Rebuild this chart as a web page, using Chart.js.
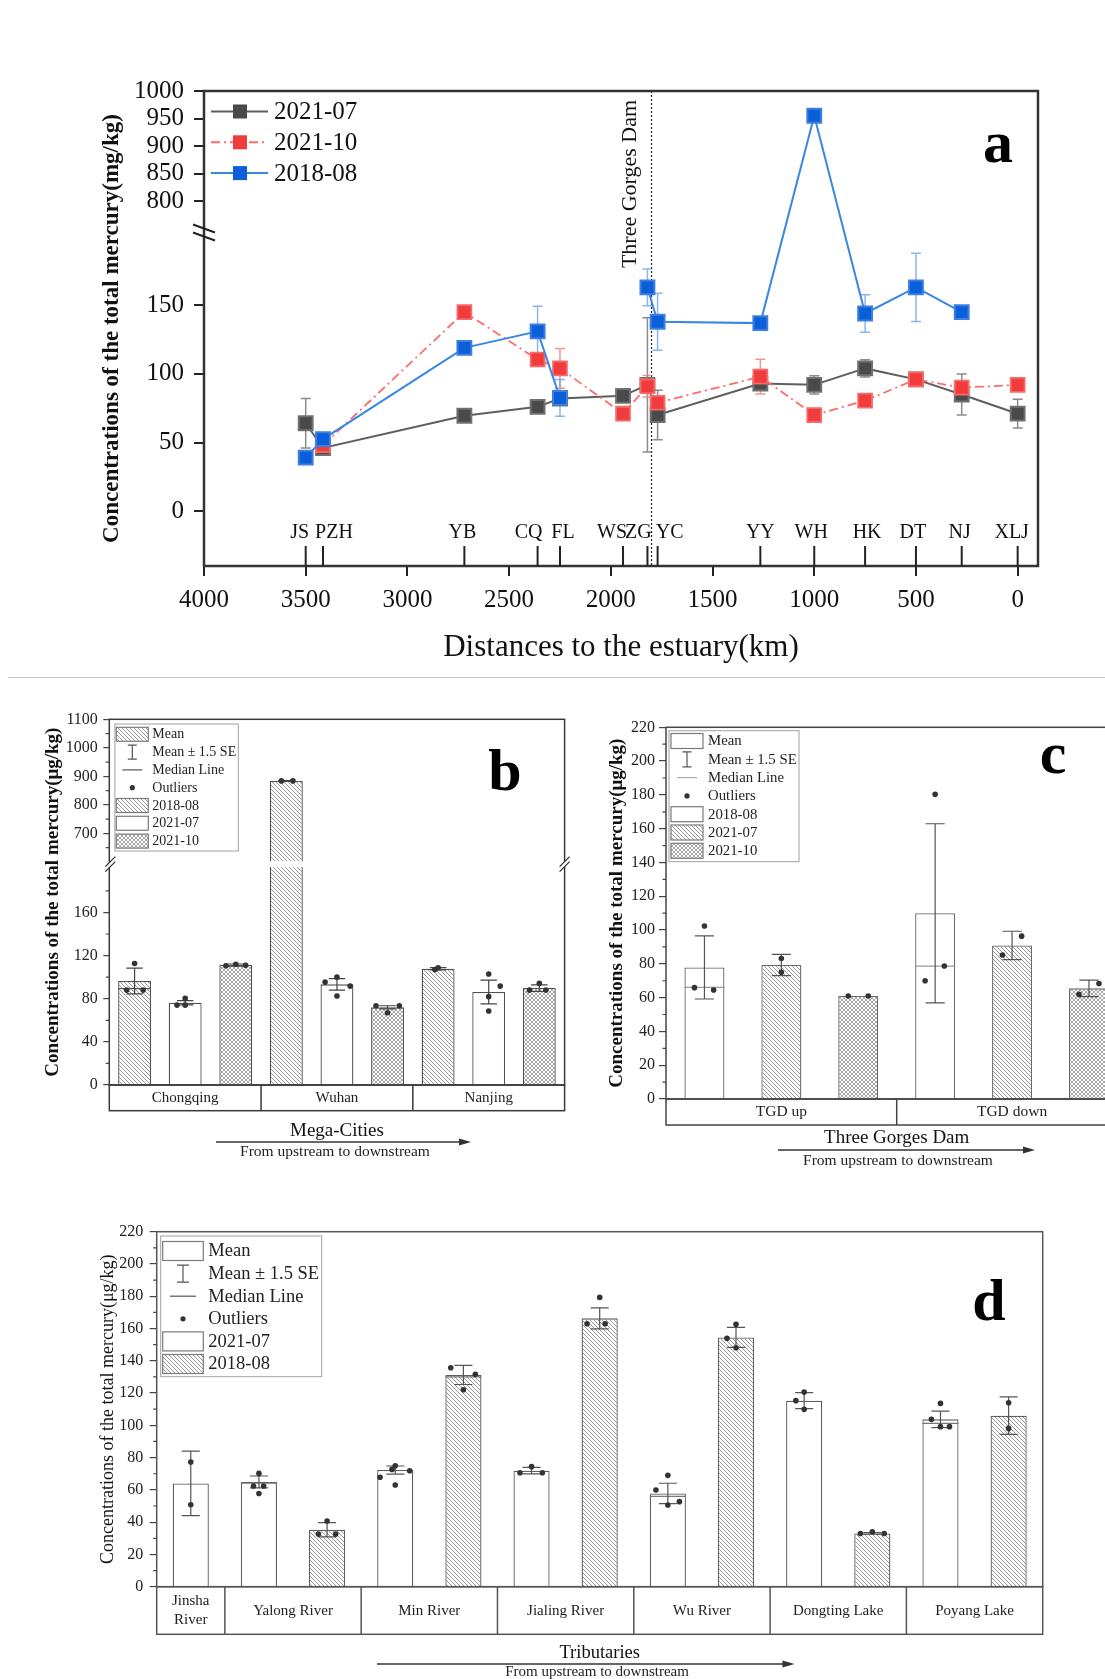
<!DOCTYPE html>
<html>
<head>
<meta charset="utf-8">
<title>Total mercury concentrations</title>
<script src="https://cdn.jsdelivr.net/npm/chart.js@4.4.1/dist/chart.umd.min.js"></script>
<style>
  html, body { margin:0; padding:0; background:#fff; }
  body { width:1105px; height:1679px; overflow:hidden; position:relative; }
  canvas { position:absolute; }
  #sep { position:absolute; left:8px; top:677px; width:1097px; height:1px; background:#c4c4c4; }
</style>
</head>
<body>
<canvas id="chartA" width="1105" height="678" style="left:0;top:0"></canvas>
<div id="sep"></div>
<canvas id="chartB" width="600" height="480" style="left:0;top:690px"></canvas>
<canvas id="chartC" width="560" height="480" style="left:590px;top:700px"></canvas>
<canvas id="chartD" width="1105" height="489" style="left:0;top:1190px"></canvas>
<script>
// ======================= DATA =======================
// ---- Panel a : total mercury along the main stream ----
const stations   = ['JS','PZH','YB','CQ','FL','WS','ZG','YC','YY','WH','HK','DT','NJ','XLJ'];
const distanceKm = [3500, 3415, 2720, 2360, 2250, 1940, 1820, 1770, 1265, 1000, 750, 500, 275, 0];
const hg_2021_07     = [64, 46, 69.5, 76, 82, 84, 92, 70, 93, 92, 104, 96, 85, 71];
const hg_2021_07_err = [18, 2, 2, 2, 2, 2, 49, 18, 5, 6.6, 6.3, 3, 15, 10.5];
const hg_2021_10     = [null, 48, 145, 110.5, 104, 71, 91, 79, 98, 70, 80.5, 96, 90, 92];
const hg_2021_10_err = [null, 2, 3, 4, 14.5, 2, 7.8, 5, 12.7, 2, 2, 2, 3, 3];
const hg_2018_08     = [39, 52.5, 119, 131, 82.5, null, 163, 138, 137, 955, 144, 163, 145, null];
const hg_2018_08_err = [0, 2, 2, 18.3, 13.4, null, 13.4, 20.7, 0, 0, 13.7, 24.9, 0, null];
const distanceTicks = [4000, 3500, 3000, 2500, 2000, 1500, 1000, 500, 0];
const concTicksA = [0, 50, 100, 150, 800, 850, 900, 950, 1000];
const tgdKm = 1800;

// ---- Panel b : mega-cities ----
const cities = ['Chongqing', 'Wuhan', 'Nanjing'];
const b_2018_08 = [96.4, 884, 107.8];
const b_2021_07 = [76.3, 93.3, 86.2];
const b_2021_10 = [111.2, 72, 89.9];
const b_2018_08_se = [12, 1, 1];
const b_2021_07_se = [2, 5.4, 11];
const b_2021_10_se = [1, 1.5, 3];
const b_2018_08_median = [89.3, null, null];
const b_2018_08_pts = [[112.7, 88, 88], [884, 884], [108.7, 107]];
const b_2021_07_pts = [[80.3, 74.1, 74.1], [100, 95.4, 91.7, 82.5], [102.9, 91.7, 81.9, 68.6]];
const b_2021_10_pts = [[112, 110.5, 111], [73.5, 73.5, 67], [94.2, 88, 88]];
const concTicksB = [0, 40, 80, 120, 160, 700, 800, 900, 1000, 1100];
const concMinorB = [20, 60, 100, 140, 180, 650, 750, 850, 950, 1050];

// ---- Panel c : Three Gorges Dam ----
const tgdSites = ['TGD up', 'TGD down'];
const c_2018_08 = [77.9, 109.9];
const c_2021_07 = [79.3, 90.9];
const c_2021_10 = [61, 65.5];
const c_2018_08_se = [18.7, 53];
const c_2021_07_se = [6.3, 8.4];
const c_2021_10_se = [0, 4.9];
const c_2018_08_median = [66.1, 78.7];
const c_2018_08_pts = [[102.4, 65.9, 64.5], [180.3, 70, 78.7]];
const c_2021_07_pts = [[83.2, 75], [96.4, 85.2]];
const c_2021_10_pts = [[61, 61], [68.4, 61.9]];

// ---- Panel d : tributaries ----
const tributaries = ['Jinsha River', 'Yalong River', 'Min River', 'Jialing River', 'Wu River', 'Dongting Lake', 'Poyang Lake'];
const d_2021_07 = [64, 64.9, 72.3, 71.9, 57.8, 115.3, 103.7];
const d_2018_08 = [null, 35.3, 131.2, 166.3, 154.5, 33, 106];
const d_2021_07_se = [20, 3.7, 2.5, 2, 6.3, 5, 5.1];
const d_2018_08_se = [null, 4.4, 5.9, 6.5, 6.2, 0.5, 11.6];
const d_2021_07_median = [null, 64.1, null, null, 56, null, 101.2];
const d_2018_08_median = [null, null, 130, null, null, null, null];
const d_2021_07_pts = [[77.3, 50.8], [70.2, 62.4, 62.4, 57.8], [75, 72.7, 71.9, 67.8, 63], [74.4, 70.6, 70.6], [69, 59.9, 50.6, 52.7], [120.6, 115.3, 109.9], [113.6, 103.7, 99.2, 99.2]];
const d_2018_08_pts = [null, [40.7, 32.6, 32.6], [135.7, 131.6, 122.1], [179.3, 163, 163], [162.6, 153.9, 148.1], [33, 34, 33], [114, 98.1]];
const concTicks220 = [0, 20, 40, 60, 80, 100, 120, 140, 160, 180, 200, 220];
const concMinor220 = [10, 30, 50, 70, 90, 110, 130, 150, 170, 190, 210];

// ======================= LAYOUT / STYLE (not data) =======================
const stationLabelShift = [-6, 11, -2, -9, 3, -11, -9, 12, 0, -3, 2, -3, -2, -6];
const jitB = {
  '2018-08': [[0, -0.24, 0.26], [-0.15, 0.2], [0, -0.1]],
  '2021-07': [[0, -0.25, 0], [0, -0.36, 0.4, 0], [0, 0.35, 0, 0]],
  '2021-10': [[0, -0.3, 0.3], [-0.35, 0.36, 0], [0, -0.3, 0.2]]
};
const jitC = {
  '2018-08': [[0, -0.25, 0.23], [0, -0.25, 0.23]],
  '2021-07': [[0, 0], [0.24, -0.24]],
  '2021-10': [[-0.25, 0.25], [0.25, -0.25]]
};
const jitD = {
  '2021-07': [[0, 0], [0, -0.15, 0.13, 0], [0, -0.09, 0.4, -0.42, 0], [0, -0.32, 0.3], [0, -0.33, 0, 0.32], [0, -0.23, 0], [0, -0.25, 0, 0.25]],
  '2018-08': [null, [0, -0.24, 0.24], [-0.35, 0.33, 0], [0, -0.35, 0.15], [0, -0.25, 0], [-0.33, 0, 0.33], [0, 0]]
};
// broken-axis geometry: value ranges and the fraction of axis height they occupy
const BREAKS = {
  chartA: [{from: -40, to: 203, f0: 0, f1: 0.702}, {from: 743, to: 1000, f0: 0.702, f1: 1}],
  chartB: [{from: 0, to: 204.8, f0: 0, f1: 0.604}, {from: 592, to: 1100, f0: 0.604, f1: 1}]
};

const SERIF = "'Liberation Serif', 'Times New Roman', Times, serif";
Chart.defaults.font.family = SERIF;
Chart.defaults.color = '#111';

// ======================= BROKEN LINEAR SCALE =======================
class BrokenScale extends Chart.LinearScale {
  static id = 'broken';
  static defaults = {};
  _segs() { return BREAKS[this.chart.canvas.id]; }
  _dec(v) {
    const segs = this._segs();
    for (let k = 0; k < segs.length; k++) {
      const s = segs[k];
      if (v <= s.to || k === segs.length - 1) {
        if (v < s.from && k > 0) return s.f0;
        return s.f0 + (v - s.from) / (s.to - s.from) * (s.f1 - s.f0);
      }
    }
    return 1;
  }
  getPixelForValue(value) {
    if (value === null || value === undefined || Number.isNaN(+value)) return NaN;
    return this.getPixelForDecimal(this._dec(+value));
  }
  getValueForPixel(pixel) {
    const d = this.getDecimalForPixel(pixel);
    const segs = this._segs();
    for (const s of segs) {
      if (d <= s.f1) return s.from + (d - s.f0) / (s.f1 - s.f0) * (s.to - s.from);
    }
    const s = segs[segs.length - 1];
    return s.from + (d - s.f0) / (s.f1 - s.f0) * (s.to - s.from);
  }
}
Chart.register(BrokenScale);

// ======================= HELPERS =======================
function makeHatch(bg, fg, s, lw, cross) {
  const c = document.createElement('canvas'); c.width = s; c.height = s;
  const g = c.getContext('2d');
  g.fillStyle = bg; g.fillRect(0, 0, s, s);
  g.strokeStyle = fg; g.lineWidth = lw;
  g.beginPath();
  g.moveTo(-1, -1); g.lineTo(s + 1, s + 1);
  g.moveTo(-1, s - 1); g.lineTo(1, s + 1);
  g.moveTo(s - 1, -1); g.lineTo(s + 1, 1);
  if (cross) {
    g.moveTo(-1, s + 1); g.lineTo(s + 1, -1);
    g.moveTo(-1, 1); g.lineTo(1, -1);
    g.moveTo(s - 1, s + 1); g.lineTo(s + 1, s - 1);
  }
  g.stroke();
  return g.createPattern(c, 'repeat');
}
const hatchPat = makeHatch('#ffffff', '#8a8a8a', 4, 0.9, false);
const crossPat = makeHatch('#ffffff', '#8f8f8f', 4, 0.8, true);

function txt(ctx, str, x, y, size, o = {}) {
  ctx.save();
  ctx.font = `${o.weight || 'normal'} ${size}px ${SERIF}`;
  ctx.fillStyle = o.color || '#111';
  ctx.textAlign = o.align || 'center';
  ctx.textBaseline = o.baseline || 'middle';
  if (o.rotate) { ctx.translate(x, y); ctx.rotate(o.rotate); ctx.fillText(str, 0, 0); }
  else ctx.fillText(str, x, y);
  ctx.restore();
}
function frame(ctx, ca, color, lw) {
  ctx.save(); ctx.strokeStyle = color; ctx.lineWidth = lw;
  ctx.strokeRect(ca.left, ca.top, ca.right - ca.left, ca.bottom - ca.top);
  ctx.restore();
}
function breakMark(ctx, x, y, color, lw, w, h, g) {
  ctx.save();
  ctx.fillStyle = '#fff';
  ctx.beginPath();
  ctx.moveTo(x - w, y + h - g); ctx.lineTo(x + w, y - h - g);
  ctx.lineTo(x + w, y - h + g); ctx.lineTo(x - w, y + h + g); ctx.closePath(); ctx.fill();
  ctx.strokeStyle = color; ctx.lineWidth = lw;
  ctx.beginPath();
  ctx.moveTo(x - w, y + h - g); ctx.lineTo(x + w, y - h - g);
  ctx.moveTo(x - w, y + h + g); ctx.lineTo(x + w, y - h + g);
  ctx.stroke();
  ctx.restore();
}
function arrow(ctx, x0, x1, y) {
  ctx.save(); ctx.strokeStyle = '#333'; ctx.fillStyle = '#333'; ctx.lineWidth = 1.4;
  ctx.beginPath(); ctx.moveTo(x0, y); ctx.lineTo(x1 - 8, y); ctx.stroke();
  ctx.beginPath(); ctx.moveTo(x1, y); ctx.lineTo(x1 - 12, y - 3.5); ctx.lineTo(x1 - 12, y + 3.5); ctx.closePath(); ctx.fill();
  ctx.restore();
}
function minorTicks(ctx, scale, vals, len, color, lw) {
  ctx.save(); ctx.strokeStyle = color; ctx.lineWidth = lw;
  ctx.beginPath();
  vals.forEach(v => { const py = scale.getPixelForValue(v); ctx.moveTo(scale.right - len, py); ctx.lineTo(scale.right, py); });
  ctx.stroke(); ctx.restore();
}
function statLegend(ctx, ca, L) {
  ctx.save();
  ctx.strokeStyle = '#a0a0a0'; ctx.lineWidth = 1;
  ctx.strokeRect(ca.left + L.dx, ca.top + L.dy, L.w, L.h);
  L.items.forEach((it, k) => {
    const cy = ca.top + L.row0 + k * L.rowH;
    const sx = ca.left + L.swX, mid = sx + L.swW / 2;
    ctx.save();
    if (it.kind === 'box') {
      ctx.fillStyle = it.fill; ctx.fillRect(sx, cy - L.swH / 2, L.swW, L.swH);
      ctx.strokeStyle = '#7a7a7a'; ctx.lineWidth = 1.2; ctx.strokeRect(sx, cy - L.swH / 2, L.swW, L.swH);
    } else if (it.kind === 'ibeam') {
      ctx.strokeStyle = '#555'; ctx.lineWidth = 1.2; ctx.beginPath();
      ctx.moveTo(mid, cy - L.ib / 2); ctx.lineTo(mid, cy + L.ib / 2);
      ctx.moveTo(mid - L.cap / 2, cy - L.ib / 2); ctx.lineTo(mid + L.cap / 2, cy - L.ib / 2);
      ctx.moveTo(mid - L.cap / 2, cy + L.ib / 2); ctx.lineTo(mid + L.cap / 2, cy + L.ib / 2);
      ctx.stroke();
    } else if (it.kind === 'median') {
      ctx.strokeStyle = L.medColor; ctx.lineWidth = 1.2; ctx.beginPath();
      ctx.moveTo(mid - L.medW / 2, cy); ctx.lineTo(mid + L.medW / 2, cy); ctx.stroke();
    } else if (it.kind === 'dot') {
      ctx.fillStyle = '#333'; ctx.beginPath(); ctx.arc(mid, cy, 2.6, 0, Math.PI * 2); ctx.fill();
    }
    ctx.restore();
    txt(ctx, it.label, ca.left + L.textX, cy + 0.5, L.font, {align: 'left', color: '#222'});
  });
  ctx.restore();
}
// draws medians, Mean ± 1.5 SE bars and individual sample points on each bar
function drawBarStats(chart, st) {
  const ctx = chart.ctx, y = chart.scales.y;
  chart.data.datasets.forEach((ds, di) => {
    const meta = chart.getDatasetMeta(di);
    meta.data.forEach((bar, i) => {
      const v = ds.data[i];
      if (v == null) return;
      const cx = bar.x, w = bar.width;
      ctx.save();
      const med = ds.median ? ds.median[i] : null;
      if (med != null) {
        const py = y.getPixelForValue(med);
        ctx.strokeStyle = st.medColor; ctx.lineWidth = 1.2;
        ctx.beginPath(); ctx.moveTo(cx - w / 2, py); ctx.lineTo(cx + w / 2, py); ctx.stroke();
      }
      const e = ds.se ? ds.se[i] : 0;
      if (e) {
        const t = y.getPixelForValue(v + e), b = y.getPixelForValue(v - e), c = w * st.capFrac / 2;
        ctx.strokeStyle = st.errColor; ctx.lineWidth = 1.2;
        ctx.beginPath();
        ctx.moveTo(cx, t); ctx.lineTo(cx, b);
        ctx.moveTo(cx - c, t); ctx.lineTo(cx + c, t);
        ctx.moveTo(cx - c, b); ctx.lineTo(cx + c, b);
        ctx.stroke();
      }
      const pts = ds.pts ? ds.pts[i] : null;
      if (pts) {
        ctx.fillStyle = '#333';
        pts.forEach((p, k) => {
          const j = (ds.jit && ds.jit[i]) ? (ds.jit[i][k] || 0) : 0;
          ctx.beginPath(); ctx.arc(cx + j * w, y.getPixelForValue(p), st.dot, 0, Math.PI * 2); ctx.fill();
        });
      }
      ctx.restore();
    });
  });
}
function categoryTable(ctx, ca, tableBottom, edges, color, lw) {
  ctx.save(); ctx.strokeStyle = color; ctx.lineWidth = lw;
  ctx.strokeRect(ca.left, ca.bottom, ca.right - ca.left, tableBottom - ca.bottom);
  ctx.beginPath();
  edges.forEach(x => { ctx.moveTo(x, ca.bottom); ctx.lineTo(x, tableBottom); });
  ctx.stroke(); ctx.restore();
}

// ======================= PANEL a =======================
const panelAPlugin = {
  id: 'panelA',
  beforeDatasetsDraw(chart) {
    const {ctx, chartArea: ca, scales: {x, y}} = chart;
    const tx = x.getPixelForValue(tgdKm);
    ctx.save();
    ctx.strokeStyle = '#222'; ctx.lineWidth = 1.2; ctx.setLineDash([2, 2]);
    ctx.beginPath(); ctx.moveTo(tx, ca.top); ctx.lineTo(tx, ca.bottom); ctx.stroke();
    ctx.restore();
    chart.data.datasets.forEach((ds, di) => {
      const meta = chart.getDatasetMeta(di);
      ctx.save(); ctx.strokeStyle = ds.errColor; ctx.lineWidth = 1.5;
      meta.data.forEach((pt, i) => {
        const v = ds.data[i].y, e = ds.err[i];
        if (v == null || !e) return;
        const px = pt.x, t = y.getPixelForValue(v + e), b = y.getPixelForValue(v - e);
        ctx.beginPath();
        ctx.moveTo(px, t); ctx.lineTo(px, b);
        ctx.moveTo(px - 5, t); ctx.lineTo(px + 5, t);
        ctx.moveTo(px - 5, b); ctx.lineTo(px + 5, b);
        ctx.stroke();
      });
      ctx.restore();
    });
  },
  afterDraw(chart) {
    const {ctx, chartArea: ca, scales: {x, y}} = chart;
    frame(ctx, ca, '#333', 2.5);
    // station ticks + names
    ctx.save();
    ctx.strokeStyle = '#222'; ctx.lineWidth = 2;
    stations.forEach((s, i) => {
      const px = x.getPixelForValue(distanceKm[i]);
      ctx.beginPath(); ctx.moveTo(px, ca.bottom); ctx.lineTo(px, ca.bottom - 20); ctx.stroke();
      txt(ctx, s, px + stationLabelShift[i], ca.bottom - 33, 20, {color: '#111'});
    });
    ctx.restore();
    // dam label
    const tx = x.getPixelForValue(tgdKm);
    txt(ctx, 'Three Gorges Dam', tx - 21, ca.top + 93, 22, {rotate: -Math.PI / 2, color: '#111'});
    // axis break: two shallow parallel strokes across the axis
    const bp = y.getPixelForDecimal(0.702);
    ctx.save(); ctx.strokeStyle = '#222'; ctx.lineWidth = 2;
    ctx.beginPath();
    ctx.moveTo(ca.left - 11, bp - 8); ctx.lineTo(ca.left + 11, bp);
    ctx.moveTo(ca.left - 11, bp); ctx.lineTo(ca.left + 11, bp + 8);
    ctx.stroke(); ctx.restore();
    // legend
    const leg = chart.data.datasets;
    leg.forEach((ds, k) => {
      const cy = 111.5 + k * 30.8;
      ctx.save();
      ctx.strokeStyle = ds.borderColor; ctx.lineWidth = 2;
      if (ds.borderDash) ctx.setLineDash(ds.borderDash);
      ctx.beginPath(); ctx.moveTo(211, cy); ctx.lineTo(268, cy); ctx.stroke();
      ctx.setLineDash([]);
      ctx.fillStyle = ds.pointBackgroundColor;
      ctx.fillRect(240 - 7, cy - 7, 14, 14);
      ctx.restore();
      txt(ctx, ds.label, 274, cy + 1, 25, {align: 'left', color: '#111'});
    });
    txt(ctx, 'a', ca.right - 40, ca.top + 70.7, 60, {weight: 'bold', baseline: 'alphabetic', color: '#000'});
  }
};

const order = [2, 1, 0];
new Chart(document.getElementById('chartA'), {
  type: 'line',
  data: {
    datasets: [
      {label: '2021-07', data: distanceKm.map((d, i) => ({x: d, y: hg_2021_07[i]})), err: hg_2021_07_err,
       errColor: 'rgba(110,110,110,0.8)', borderColor: '#5e5e5e', borderWidth: 2,
       pointBackgroundColor: '#4a4a4a', pointBorderColor: '#707070', order: order[0]},
      {label: '2021-10', data: distanceKm.map((d, i) => ({x: d, y: hg_2021_10[i]})), err: hg_2021_10_err,
       errColor: 'rgba(240,120,120,0.8)', borderColor: '#ff6b6b', borderWidth: 1.8, borderDash: [9, 4, 2, 4],
       pointBackgroundColor: '#f03c3c', pointBorderColor: '#f86a6a', order: order[1]},
      {label: '2018-08', data: distanceKm.map((d, i) => ({x: d, y: hg_2018_08[i]})), err: hg_2018_08_err,
       errColor: 'rgba(110,160,235,0.8)', borderColor: '#3a86e4', borderWidth: 2,
       pointBackgroundColor: '#0b5fd8', pointBorderColor: '#3d7fe0', order: order[2]}
    ]
  },
  options: {
    responsive: false, animation: false, events: [],
    layout: {padding: {left: 0, top: 91, right: 67, bottom: 0}},
    elements: {line: {tension: 0}, point: {pointStyle: 'rect', radius: 9.8, borderWidth: 1}},
    plugins: {legend: {display: false}, tooltip: {enabled: false}},
    scales: {
      x: {
        type: 'linear', reverse: true, min: -100, max: 4000,
        afterBuildTicks(s) { s.ticks = distanceTicks.map(v => ({value: v})); },
        afterFit(s) { s.height = 112; },
        grid: {drawOnChartArea: false, tickLength: 10, color: '#222', lineWidth: 2},
        border: {display: false},
        ticks: {font: {size: 25}, padding: 9, color: '#111', autoSkip: false, maxRotation: 0, callback: v => String(v)},
        title: {display: true, text: 'Distances to the estuary(km)', font: {size: 31}, color: '#111', padding: {top: 0, bottom: 12}}
      },
      y: {
        type: 'broken', min: -40, max: 1000,
        afterBuildTicks(s) { s.ticks = concTicksA.map(v => ({value: v})); },
        afterFit(s) { s.width = 204; },
        grid: {drawOnChartArea: false, tickLength: 10, color: '#222', lineWidth: 2},
        border: {display: false},
        ticks: {font: {size: 25}, padding: 10, color: '#111', callback: v => String(v)},
        title: {display: true, text: 'Concentrations of the total mercury(mg/kg)', font: {size: 23, weight: 'bold'}, color: '#111', padding: {top: 98, bottom: 0}}
      }
    }
  },
  plugins: [panelAPlugin]
});

// ======================= PANEL b =======================
new Chart(document.getElementById('chartB'), {
  type: 'bar',
  data: {
    labels: cities,
    datasets: [
      {label: '2018-08', data: b_2018_08, backgroundColor: hatchPat, se: b_2018_08_se, median: b_2018_08_median, pts: b_2018_08_pts, jit: jitB['2018-08']},
      {label: '2021-07', data: b_2021_07, backgroundColor: '#ffffff', se: b_2021_07_se, pts: b_2021_07_pts, jit: jitB['2021-07']},
      {label: '2021-10', data: b_2021_10, backgroundColor: crossPat, se: b_2021_10_se, pts: b_2021_10_pts, jit: jitB['2021-10']}
    ]
  },
  options: {
    responsive: false, animation: false, events: [],
    layout: {padding: {left: 0, top: 29.3, right: 35.4, bottom: 0}},
    datasets: {bar: {categoryPercentage: 1, barPercentage: 0.65, borderColor: '#505050', borderWidth: 1.3}},
    plugins: {legend: {display: false}, tooltip: {enabled: false}},
    scales: {
      x: {
        grid: {display: false, drawTicks: false}, border: {display: false},
        ticks: {font: {size: 15}, padding: 4, color: '#222'},
        afterFit(s) { s.height = 85; },
        title: {display: true, text: 'Mega-Cities', font: {size: 19}, color: '#111', padding: {top: 0, bottom: 27.6}}
      },
      y: {
        type: 'broken', min: 0, max: 1100,
        afterBuildTicks(s) { s.ticks = concTicksB.map(v => ({value: v})); },
        afterFit(s) { s.width = 109.3; },
        grid: {drawOnChartArea: false, tickLength: 6, color: '#444', lineWidth: 1.2},
        border: {display: false},
        ticks: {font: {size: 16}, padding: 5.5, color: '#222', callback: v => String(v)},
        title: {display: true, text: 'Concentrations of the total mercury(μg/kg)', font: {size: 19, weight: 'bold'}, color: '#111', padding: {top: 41.6, bottom: 0}}
      }
    }
  },
  plugins: [{
    id: 'panelB',
    afterDatasetsDraw(chart) {
      const {ctx, chartArea: ca, scales: {y}} = chart;
      const bp = y.getPixelForDecimal(0.604);
      ctx.save(); ctx.fillStyle = '#fff'; ctx.fillRect(ca.left + 1, bp - 3, ca.right - ca.left - 2, 6); ctx.restore();
      drawBarStats(chart, {medColor: '#555', errColor: '#444', capFrac: 0.5, dot: 2.8});
    },
    afterDraw(chart) {
      const {ctx, chartArea: ca, scales: {y}} = chart;
      frame(ctx, ca, '#3a3a3a', 1.5);
      const n = cities.length, cw = (ca.right - ca.left) / n;
      categoryTable(ctx, ca, ca.bottom + 25.7, [1, 2].map(k => ca.left + k * cw), '#3a3a3a', 1.5);
      minorTicks(ctx, y, concMinorB, 3.5, '#444', 1.2);
      const bp = y.getPixelForDecimal(0.604);
      breakMark(ctx, ca.left + 1, bp, '#333', 1.3, 5, 5, 2.5);
      breakMark(ctx, ca.right, bp, '#333', 1.3, 5, 5, 2.5);
      arrow(ctx, 216, 471, 452);
      txt(ctx, 'From upstream to downstream', 335, 462.3, 15.5, {color: '#222'});
      const ds = chart.data.datasets;
      statLegend(ctx, ca, {dx: 5.6, dy: 4.7, w: 123.4, h: 127, row0: 15, rowH: 17.8, swX: 7, swW: 32, swH: 14, textX: 43, font: 14,
        ib: 14, cap: 9, medW: 20, medColor: '#555',
        items: [{kind: 'box', fill: hatchPat, label: 'Mean'}, {kind: 'ibeam', label: 'Mean ± 1.5 SE'}, {kind: 'median', label: 'Median Line'},
                {kind: 'dot', label: 'Outliers'}, {kind: 'box', fill: ds[0].backgroundColor, label: ds[0].label},
                {kind: 'box', fill: ds[1].backgroundColor, label: ds[1].label}, {kind: 'box', fill: ds[2].backgroundColor, label: ds[2].label}]});
      txt(ctx, 'b', ca.right - 59.6, ca.top + 70.7, 60, {weight: 'bold', baseline: 'alphabetic', color: '#000'});
    }
  }]
});

// ======================= PANEL c =======================
new Chart(document.getElementById('chartC'), {
  type: 'bar',
  data: {
    labels: tgdSites,
    datasets: [
      {label: '2018-08', data: c_2018_08, backgroundColor: '#ffffff', se: c_2018_08_se, median: c_2018_08_median, pts: c_2018_08_pts, jit: jitC['2018-08']},
      {label: '2021-07', data: c_2021_07, backgroundColor: hatchPat, se: c_2021_07_se, pts: c_2021_07_pts, jit: jitC['2021-07']},
      {label: '2021-10', data: c_2021_10, backgroundColor: crossPat, se: c_2021_10_se, pts: c_2021_10_pts, jit: jitC['2021-10']}
    ]
  },
  options: {
    responsive: false, animation: false, events: [],
    layout: {padding: {left: 0, top: 27.3, right: 22.6, bottom: 0}},
    datasets: {bar: {categoryPercentage: 1, barPercentage: 0.52, borderColor: '#6a6a6a', borderWidth: 1.3}},
    plugins: {legend: {display: false}, tooltip: {enabled: false}},
    scales: {
      x: {
        grid: {display: false, drawTicks: false}, border: {display: false},
        ticks: {font: {size: 15.5}, padding: 3.7, color: '#222'},
        afterFit(s) { s.height = 81; },
        title: {display: true, text: 'Three Gorges Dam', font: {size: 19}, color: '#111', padding: {top: 0, bottom: 30.9}}
      },
      y: {
        min: 0, max: 220,
        afterBuildTicks(s) { s.ticks = concTicks220.map(v => ({value: v})); },
        afterFit(s) { s.width = 76; },
        grid: {drawOnChartArea: false, tickLength: 7, color: '#444', lineWidth: 1.2},
        border: {display: false},
        ticks: {font: {size: 16}, padding: 4, color: '#222', callback: v => String(v)},
        title: {display: true, text: 'Concentrations of the total mercury(μg/kg)', font: {size: 19, weight: 'bold'}, color: '#111', padding: {top: 15.6, bottom: 0}}
      }
    }
  },
  plugins: [{
    id: 'panelC',
    afterDatasetsDraw(chart) { drawBarStats(chart, {medColor: '#999', errColor: '#555', capFrac: 0.48, dot: 2.8}); },
    afterDraw(chart) {
      const {ctx, chartArea: ca, scales: {y}} = chart;
      frame(ctx, ca, '#444', 1.5);
      const n = tgdSites.length, cw = (ca.right - ca.left) / n;
      categoryTable(ctx, ca, ca.bottom + 26, [ca.left + cw], '#444', 1.5);
      minorTicks(ctx, y, concMinor220, 3.5, '#444', 1.2);
      arrow(ctx, 188, 445, 450);
      txt(ctx, 'From upstream to downstream', 308, 460.7, 15.5, {color: '#222'});
      const ds = chart.data.datasets;
      statLegend(ctx, ca, {dx: 3, dy: 3.4, w: 130, h: 131, row0: 13.7, rowH: 18.3, swX: 5, swW: 32, swH: 15, textX: 42, font: 14.8,
        ib: 15, cap: 9, medW: 20, medColor: '#aaa',
        items: [{kind: 'box', fill: '#ffffff', label: 'Mean'}, {kind: 'ibeam', label: 'Mean ± 1.5 SE'}, {kind: 'median', label: 'Median Line'},
                {kind: 'dot', label: 'Outliers'}, {kind: 'box', fill: ds[0].backgroundColor, label: ds[0].label},
                {kind: 'box', fill: ds[1].backgroundColor, label: ds[1].label}, {kind: 'box', fill: ds[2].backgroundColor, label: ds[2].label}]});
      txt(ctx, 'c', ca.left + 387, ca.top + 45.7, 60, {weight: 'bold', baseline: 'alphabetic', color: '#000'});
    }
  }]
});

// ======================= PANEL d =======================
// one bar slot per (tributary, campaign) that has a value
const dSlots = [];
tributaries.forEach((t, i) => {
  if (d_2021_07[i] != null) dSlots.push({trib: i, series: '2021-07', v: d_2021_07[i], se: d_2021_07_se[i], med: d_2021_07_median[i], pts: d_2021_07_pts[i], jit: jitD['2021-07'][i]});
  if (d_2018_08[i] != null) dSlots.push({trib: i, series: '2018-08', v: d_2018_08[i], se: d_2018_08_se[i], med: d_2018_08_median[i], pts: d_2018_08_pts[i], jit: jitD['2018-08'][i]});
});
new Chart(document.getElementById('chartD'), {
  type: 'bar',
  data: {
    labels: dSlots.map(s => tributaries[s.trib]),
    datasets: [{
      label: 'Tributaries',
      data: dSlots.map(s => s.v),
      backgroundColor: dSlots.map(s => s.series === '2021-07' ? '#ffffff' : hatchPat),
      se: dSlots.map(s => s.se), median: dSlots.map(s => s.med), pts: dSlots.map(s => s.pts), jit: dSlots.map(s => s.jit)
    }]
  },
  options: {
    responsive: false, animation: false, events: [],
    layout: {padding: {left: 0, top: 41.7, right: 62.3, bottom: 0}},
    datasets: {bar: {categoryPercentage: 1, barPercentage: 0.53, borderColor: '#5f5f5f', borderWidth: 1.3}},
    plugins: {legend: {display: false}, tooltip: {enabled: false}},
    scales: {
      x: {
        grid: {display: false, drawTicks: false}, border: {display: false},
        ticks: {display: false},
        afterFit(s) { s.height = 92.3; },
        title: {display: true, text: 'Tributaries', font: {size: 18.5}, color: '#111', padding: {top: 0, bottom: 14.9}}
      },
      y: {
        min: 0, max: 220,
        afterBuildTicks(s) { s.ticks = concTicks220.map(v => ({value: v})); },
        afterFit(s) { s.width = 156.7; },
        grid: {drawOnChartArea: false, tickLength: 7, color: '#444', lineWidth: 1.2},
        border: {display: false},
        ticks: {font: {size: 16}, padding: 6.4, color: '#222', callback: v => String(v)},
        title: {display: true, text: 'Concentrations of the total mercury(μg/kg)', font: {size: 18}, color: '#111', padding: {top: 97.2, bottom: 0}}
      }
    }
  },
  plugins: [{
    id: 'panelD',
    afterDatasetsDraw(chart) { drawBarStats(chart, {medColor: '#777', errColor: '#555', capFrac: 0.5, dot: 2.8}); },
    afterDraw(chart) {
      const {ctx, chartArea: ca, scales: {x, y}} = chart;
      frame(ctx, ca, '#555', 1.5);
      const slotW = x.getPixelForValue(1) - x.getPixelForValue(0);
      const groups = tributaries.map((t, i) => {
        const idx = dSlots.map((s, k) => s.trib === i ? k : -1).filter(k => k >= 0);
        return {name: t, x0: x.getPixelForValue(idx[0]) - slotW / 2, x1: x.getPixelForValue(idx[idx.length - 1]) + slotW / 2};
      });
      const tb = ca.bottom + 47.6;
      categoryTable(ctx, ca, tb, groups.slice(1).map(g => g.x0), '#555', 1.5);
      ctx.save(); ctx.font = `15px ${SERIF}`;
      groups.forEach(g => {
        const cx = (g.x0 + g.x1) / 2, cy = ca.bottom + 24;
        if (ctx.measureText(g.name).width > g.x1 - g.x0 - 8) {
          const parts = g.name.split(' ');
          txt(ctx, parts[0], cx, cy - 9.2, 15, {color: '#222'});
          txt(ctx, parts.slice(1).join(' '), cx, cy + 9.2, 15, {color: '#222'});
        } else txt(ctx, g.name, cx, cy, 15, {color: '#222'});
      });
      ctx.restore();
      minorTicks(ctx, y, concMinor220, 3.5, '#444', 1.2);
      arrow(ctx, 377, 794.5, 474);
      txt(ctx, 'From upstream to downstream', 597, 482, 15, {color: '#222'});
      statLegend(ctx, ca, {dx: 4, dy: 4.3, w: 161, h: 140.7, row0: 19.3, rowH: 22.6, swX: 6, swW: 40.6, swH: 19, textX: 51.6, font: 18.5,
        ib: 17, cap: 12, medW: 26, medColor: '#555',
        items: [{kind: 'box', fill: '#ffffff', label: 'Mean'}, {kind: 'ibeam', label: 'Mean ± 1.5 SE'}, {kind: 'median', label: 'Median Line'},
                {kind: 'dot', label: 'Outliers'}, {kind: 'box', fill: '#ffffff', label: '2021-07'}, {kind: 'box', fill: hatchPat, label: '2018-08'}]});
      txt(ctx, 'd', ca.right - 53.7, ca.top + 88.3, 60, {weight: 'bold', baseline: 'alphabetic', color: '#000'});
    }
  }]
});
</script>
</body>
</html>
